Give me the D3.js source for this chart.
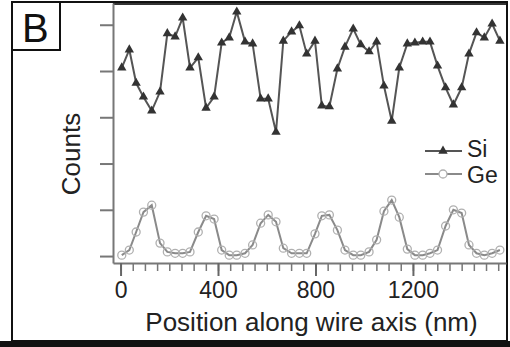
<!DOCTYPE html>
<html>
<head>
<meta charset="utf-8">
<script src="https://cdn.jsdelivr.net/npm/d3@7"></script>
<style>
  html, body { margin: 0; padding: 0; background: #fff; }
  svg { display: block; font-family: "Liberation Sans", Arial, sans-serif; }
</style>
</head>
<body>
<div id="chart"></div>
<script>
// Position of each measurement along the wire (nm)
const positions = [5, 36, 64, 94, 128, 162, 192, 224, 255, 285, 319, 351, 384, 415, 446, 477, 511, 542, 575, 606,
  638, 668, 702, 734, 764, 798, 826, 857, 890, 921, 955, 986, 1020, 1051, 1081, 1113, 1144, 1177, 1208, 1240,
  1270, 1301, 1334, 1366, 1400, 1430, 1461, 1493, 1525, 1557];
// Counts (arbitrary units)
const siCounts = [407, 446, 374, 344, 314, 355, 481, 474, 515, 407, 429, 320, 344, 461, 472, 528, 463, 459, 340, 340,
  268, 465, 485, 498, 437, 465, 325, 323, 405, 452, 491, 457, 442, 463, 368, 292, 407, 459, 461, 463,
  463, 411, 364, 327, 364, 437, 483, 472, 502, 465];
const geCounts = [2, 13, 52, 95, 110, 28, 9, 6, 6, 9, 52, 87, 80, 13, 2, 2, 6, 24, 71, 89,
  74, 17, 6, 6, 6, 48, 87, 89, 56, 13, 2, 2, 9, 35, 97, 121, 84, 15, 2, 2,
  6, 13, 65, 100, 93, 24, 6, 2, 6, 13];
const xTickLabels = [0, 400, 800, 1200];
const yTicks = [0, 100, 200, 300, 400, 500];

const width = 510, height = 347;
const plot = { left: 113, right: 506, top: 3, bottom: 263 };

const svg = d3.select('#chart').append('svg')
  .attr('width', width)
  .attr('height', height);

// Scales
const x = d3.scaleLinear().domain([-31, 1582]).range([plot.left, plot.right]);
const y = d3.scaleLinear().domain([-15, 547]).range([plot.bottom, plot.top]);

// Outer frame
svg.append('rect')
  .attr('x', 12).attr('y', 2)
  .attr('width', 495).attr('height', 339)
  .attr('fill', 'none')
  .attr('stroke', '#111')
  .attr('stroke-width', 2);
svg.append('rect')
  .attr('x', 0).attr('y', 341)
  .attr('width', width).attr('height', 6)
  .attr('fill', '#111');

// Panel letter box
svg.append('rect')
  .attr('x', 12).attr('y', 2)
  .attr('width', 48).attr('height', 48)
  .attr('fill', 'none')
  .attr('stroke', '#111')
  .attr('stroke-width', 2);
svg.append('text')
  .attr('x', 22).attr('y', 42)
  .attr('font-size', 40)
  .attr('fill', '#111')
  .text('B');

// Plot top line
svg.append('line')
  .attr('x1', plot.left).attr('x2', plot.right)
  .attr('y1', plot.top + 1).attr('y2', plot.top + 1)
  .attr('stroke', '#333').attr('stroke-width', 2);

// Y axis (ticks only, no labels)
const yAxis = svg.append('g')
  .attr('transform', 'translate(' + plot.left + ',0)')
  .call(d3.axisLeft(y).tickValues(yTicks).tickSize(13).tickSizeOuter(0).tickFormat(''));
yAxis.select('.domain').attr('stroke', '#777').attr('stroke-width', 2);
yAxis.selectAll('.tick line').attr('stroke', '#777').attr('stroke-width', 2);

// X axis: minor ticks every 50 nm, major every 400 nm
const xMinor = svg.append('g')
  .attr('transform', 'translate(0,' + plot.bottom + ')')
  .call(d3.axisBottom(x).tickValues(d3.range(0, 1582, 50)).tickSize(8).tickSizeOuter(0).tickFormat(''));
xMinor.select('.domain').attr('stroke', '#777').attr('stroke-width', 2);
xMinor.selectAll('.tick line').attr('stroke', '#777').attr('stroke-width', 1.5);

const xMajor = svg.append('g')
  .attr('transform', 'translate(0,' + plot.bottom + ')')
  .call(d3.axisBottom(x).tickValues(xTickLabels).tickSize(13).tickPadding(6).tickSizeOuter(0)
    .tickFormat(d3.format('d')));
xMajor.select('.domain').remove();
xMajor.selectAll('.tick line').attr('stroke', '#666').attr('stroke-width', 2);
xMajor.selectAll('.tick text')
  .attr('font-size', 23)
  .attr('font-family', '"Liberation Sans", Arial, sans-serif')
  .attr('fill', '#222');

// Axis titles
svg.append('text')
  .attr('x', (plot.left + plot.right) / 2 + 2)
  .attr('y', 331)
  .attr('text-anchor', 'middle')
  .attr('font-size', 26)
  .attr('fill', '#222')
  .text('Position along wire axis (nm)');

svg.append('text')
  .attr('transform', 'translate(80,154) rotate(-90)')
  .attr('text-anchor', 'middle')
  .attr('font-size', 26)
  .attr('fill', '#222')
  .text('Counts');

const siPts = positions.map((p, i) => [p, siCounts[i]]);
const gePts = positions.map((p, i) => [p, geCounts[i]]);

const line = d3.line().x(d => x(d[0])).y(d => y(d[1]));

// Ge series
svg.append('path')
  .datum(gePts)
  .attr('d', line)
  .attr('fill', 'none')
  .attr('stroke', '#8a8a8a')
  .attr('stroke-width', 2);
svg.selectAll('circle.ge')
  .data(gePts)
  .enter()
  .append('circle')
  .attr('class', 'ge')
  .attr('cx', d => x(d[0]))
  .attr('cy', d => y(d[1]))
  .attr('r', 4)
  .attr('fill', 'none')
  .attr('stroke', '#b0b0b0')
  .attr('stroke-width', 1.3);

// Si series
svg.append('path')
  .datum(siPts)
  .attr('d', line)
  .attr('fill', 'none')
  .attr('stroke', '#555')
  .attr('stroke-width', 2);
const tri = d3.symbol().type(d3.symbolTriangle).size(38);
svg.selectAll('path.si')
  .data(siPts)
  .enter()
  .append('path')
  .attr('class', 'si')
  .attr('d', tri)
  .attr('transform', d => 'translate(' + x(d[0]) + ',' + y(d[1]) + ')')
  .attr('fill', '#333');

// Legend
const legend = svg.append('g');
legend.append('line')
  .attr('x1', 425).attr('x2', 462).attr('y1', 151).attr('y2', 151)
  .attr('stroke', '#555').attr('stroke-width', 2);
legend.append('path')
  .attr('d', tri)
  .attr('transform', 'translate(443,151)')
  .attr('fill', '#333');
legend.append('text')
  .attr('x', 467).attr('y', 157)
  .attr('font-size', 23)
  .attr('fill', '#222')
  .text('Si');

legend.append('line')
  .attr('x1', 425).attr('x2', 462).attr('y1', 174).attr('y2', 174)
  .attr('stroke', '#8a8a8a').attr('stroke-width', 2);
legend.append('circle')
  .attr('cx', 443).attr('cy', 174).attr('r', 4)
  .attr('fill', '#fff')
  .attr('stroke', '#b0b0b0').attr('stroke-width', 1.3);
legend.append('text')
  .attr('x', 467).attr('y', 183)
  .attr('font-size', 23)
  .attr('fill', '#222')
  .text('Ge');
</script>
</body>
</html>
